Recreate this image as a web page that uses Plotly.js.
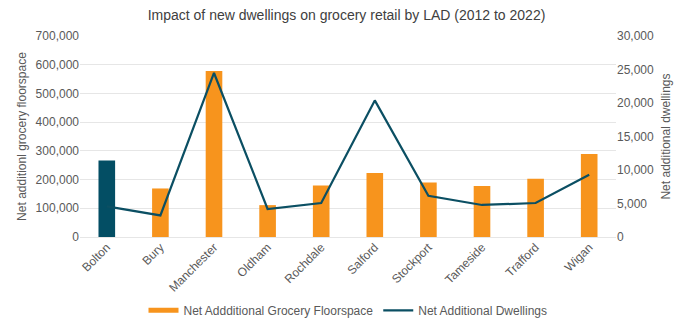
<!DOCTYPE html>
<html>
<head>
<meta charset="utf-8">
<script src="https://cdn.plot.ly/plotly-3.0.1.min.js"></script>
<style>html,body{margin:0;padding:0;background:#fff;}#chart{width:693px;height:328px;}</style>
</head>
<body>
<div id="chart"></div>
<script>
const categories = ["Bolton","Bury","Manchester","Oldham","Rochdale","Salford","Stockport","Tameside","Trafford","Wigan"];
const floorspace = [266000,169000,578000,111000,179000,223000,190000,178000,203000,289000];
const dwellings = [4570,3220,24480,4180,5070,20390,6160,4780,5070,9300];
const highlighted = "Bolton";
const yLeftTicks = [0,100000,200000,300000,400000,500000,600000,700000];
const yRightTicks = [0,5000,10000,15000,20000,25000,30000];

const orange = "#F7941D";
const teal = "#0B4F63";
const fmt = v => v.toLocaleString("en-GB");

const traces = [
  {
    type: "bar", name: "Net Addditional Grocery Floorspace", showlegend: false,
    x: categories,
    y: floorspace.map((v,i) => categories[i] === highlighted ? null : v),
    marker: {color: orange}
  },
  {
    type: "bar", name: "Bolton", showlegend: false,
    x: categories,
    y: floorspace.map((v,i) => categories[i] === highlighted ? v : null),
    marker: {color: "#034E64"}
  },
  {
    type: "scatter", mode: "lines", name: "Net Additional Dwellings", showlegend: false,
    x: categories, y: dwellings, yaxis: "y2",
    line: {color: teal, width: 2.2}
  },
  // legend entries (swatch styling only)
  {
    type: "scatter", mode: "lines", name: "Net Addditional Grocery Floorspace",
    x: [null], y: [null], line: {color: orange, width: 5}, showlegend: true
  },
  {
    type: "scatter", mode: "lines", name: "Net Additional Dwellings",
    x: [null], y: [null], yaxis: "y2", line: {color: teal, width: 2.2}, showlegend: true
  }
];

const layout = {
  width: 693, height: 328,
  margin: {l: 80, r: 77, t: 36, b: 91, autoexpand: false},
  paper_bgcolor: "#fff", plot_bgcolor: "#fff",
  font: {family: "Liberation Sans, Arial, sans-serif", color: "#595959", size: 12},
  title: {text: "Impact of new dwellings on grocery retail by LAD (2012 to 2022)",
          font: {size: 14, color: "#404040"}, x: 0.5, xanchor: "center", y: 0.955, yanchor: "middle"},
  barmode: "overlay",
  bargap: 0.69,
  showlegend: true,
  legend: {orientation: "h", x: 0.5, xanchor: "center", y: -0.365, yanchor: "middle",
           bgcolor: "rgba(0,0,0,0)",
           font: {size: 12, color: "#595959"}, traceorder: "normal", itemwidth: 30, tracegroupgap: 0},
  xaxis: {
    tickangle: -45, tickfont: {size: 12, color: "#595959"}, automargin: false,
    showgrid: false, showline: false, zeroline: false, ticks: ""
  },
  yaxis: {
    range: [0, 700000], tickvals: yLeftTicks, ticktext: yLeftTicks.map(fmt), automargin: false,
    showgrid: true, gridcolor: "#E6E6E6", gridwidth: 1, zeroline: true, zerolinecolor: "#E6E6E6",
    ticks: "", ticklen: 0, tickfont: {size: 12, color: "#595959"},
    title: {text: "Net additionl grocery floorspace", font: {size: 12, color: "#595959"}, standoff: 6}
  },
  yaxis2: {
    range: [0, 30000], tickvals: yRightTicks, ticktext: yRightTicks.map(fmt), automargin: false,
    overlaying: "y", side: "right", showgrid: false, zeroline: false,
    tickfont: {size: 12, color: "#595959"},
    title: {text: "Net additional dwellings", font: {size: 12, color: "#595959"}, standoff: 8}
  }
};

Plotly.newPlot("chart", traces, layout, {displayModeBar: false, staticPlot: true});
</script>
</body>
</html>
